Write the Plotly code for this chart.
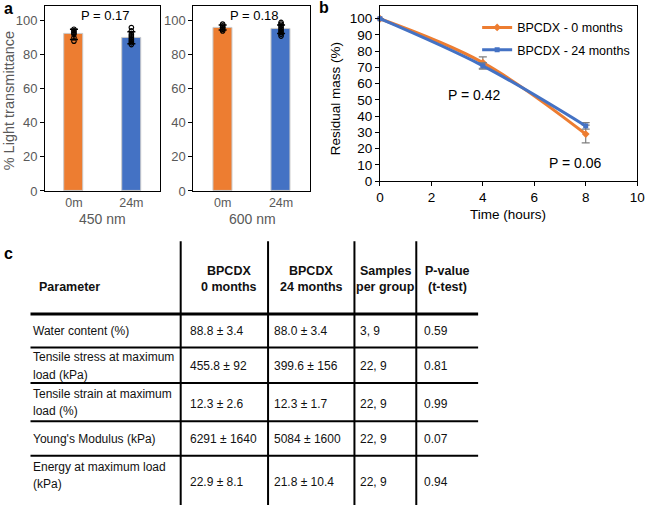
import plotly.graph_objects as go

# colours (Excel defaults)
ORANGE = '#ED7D31'
BLUE = '#4472C4'
GREY = '#595959'

# ---- panel a data ----
groups = ['0m', '24m']
t450_mean = [92, 90]
t450_sd = [3, 3.5]
t600_mean = [96, 95]
t600_sd = [1.5, 2.5]
t450_pts_0m = [88, 90, 92, 93, 94, 95]
t450_pts_24m = [86, 87, 88, 89, 90, 91, 92, 94, 96]
t600_pts_0m = [94, 95, 96, 96, 97, 98]
t600_pts_24m = [91, 92, 93, 94, 95, 96, 97, 98, 99]
p_450 = 'P = 0.17'
p_600 = 'P = 0.18'

# ---- panel b data ----
hours = [0, 4, 8]
mass_0m = [100, 73, 29]
mass_0m_err = [0, 3.5, 5.5]
mass_24m = [100, 71, 34]
mass_24m_err = [0, 2, 2]

# ---- panel c data ----
header = ['Parameter', 'BPCDX\n0 months', 'BPCDX\n24 months', 'Samples\nper group', 'P-value\n(t-test)']
params = ['Water content (%)', 'Tensile stress at maximum\nload (kPa)', 'Tensile strain at maximum\nload (%)',
          "Young's Modulus (kPa)", 'Energy at maximum load\n(kPa)']
val_0m = ['88.8 ± 3.4', '455.8 ± 92', '12.3 ± 2.6', '6291 ± 1640', '22.9 ± 8.1']
val_24m = ['88.0 ± 3.4', '399.6 ± 156', '12.3 ± 1.7', '5084 ± 1600', '21.8 ± 10.4']
samples = ['3, 9', '22, 9', '22, 9', '22, 9', '22, 9']
pvals = ['0.59', '0.81', '0.99', '0.07', '0.94']

W, H = 653, 513
FONT = 'Liberation Sans, Arial, sans-serif'


def px(x):
    return x / W


def py(y):
    return 1 - y / H


def note(text, x, y, size, color='black', xanchor='center', angle=0, bold=False):
    if bold:
        text = '<b>%s</b>' % text
    return dict(text=text, x=px(x), y=py(y), xref='paper', yref='paper', showarrow=False,
                xanchor=xanchor, yanchor='middle', textangle=angle,
                font=dict(size=size, color=color, family=FONT))


fig = go.Figure()

# bars + dots for the two wavelengths
for ax, means, sds, p0, p24 in [('', t450_mean, t450_sd, t450_pts_0m, t450_pts_24m),
                                ('2', t600_mean, t600_sd, t600_pts_0m, t600_pts_24m)]:
    fig.add_trace(go.Bar(x=groups, y=means, width=0.33,
                         marker=dict(color=[ORANGE, BLUE], line=dict(color='#c9c9c9', width=1)),
                         error_y=dict(type='data', array=sds, color='black', thickness=1.5, width=4),
                         xaxis='x' + ax, yaxis='y' + ax, showlegend=False))
    fig.add_trace(go.Scatter(x=[groups[0]] * len(p0) + [groups[1]] * len(p24), y=p0 + p24,
                             mode='markers', cliponaxis=False,
                             marker=dict(symbol='circle-open', color='black', size=4.5, line=dict(width=1.2)),
                             xaxis='x' + ax, yaxis='y' + ax, showlegend=False))

# degradation curves
fig.add_trace(go.Scatter(x=hours, y=mass_0m, name='BPCDX - 0 months', mode='lines+markers',
                         line=dict(color=ORANGE, width=3, shape='spline'),
                         marker=dict(symbol='diamond', size=6), cliponaxis=False,
                         error_y=dict(type='data', array=mass_0m_err, color='#7f7f7f', thickness=1.2, width=4),
                         xaxis='x3', yaxis='y3', legendgroup='a'))
fig.add_trace(go.Scatter(x=hours, y=mass_24m, name='BPCDX - 24 months', mode='lines+markers',
                         line=dict(color=BLUE, width=3, shape='spline'),
                         marker=dict(symbol='square', size=5), cliponaxis=False,
                         error_y=dict(type='data', array=mass_24m_err, color='#7f7f7f', thickness=1.2, width=4),
                         xaxis='x3', yaxis='y3', legendgroup='b'))

ya_dom = [py(194), py(6)]
common_y_a = dict(range=[0, 108.7], tickvals=[0, 20, 40, 60, 80, 100], showgrid=False, zeroline=False,
                  showline=True, linecolor='black', linewidth=1.2, mirror=True, ticks='outside',
                  ticklen=4, tickcolor='black', tickfont=dict(size=13, color=GREY), domain=ya_dom)
common_x_a = dict(showgrid=False, showline=True, linecolor='black', linewidth=1.2, mirror=True,
                  ticks='', tickfont=dict(size=12.5, color=GREY), range=[-0.5, 1.5])

shapes = []
annotations = [
    note('a', 5, 9, 16, bold=True),
    note('b', 326, 8, 16, bold=True),
    note('c', 5, 258, 16, bold=True),
    # panel a texts
    note('% Light transmittance', 6, 102, 14.5, GREY, angle=-90),
    note(p_450, 103, 16, 13),
    note(p_600, 255, 16, 13),
    note('450 nm', 100, 222, 14, GREY),
    note('600 nm', 253, 222, 14, GREY),
    # panel b texts
    note('Residual mass (%)', 338, 100, 13.5, angle=-90),
    note('Time (hours)', 513, 218, 13.5),
    note('P = 0.42', 479, 96, 14),
    note('P = 0.06', 582, 166, 14),
]

# ---- table (panel c) ----
vlines = [180, 269, 357, 420]
hlines = [(319, 3), (353, 2), (389, 2), (428, 2), (463, 2)]
for x in vlines:
    shapes.append(dict(type='line', xref='paper', yref='paper', x0=px(x), x1=px(x), y0=py(245), y1=py(513),
                       line=dict(color='black', width=2)))
for y, w in hlines:
    shapes.append(dict(type='line', xref='paper', yref='paper', x0=px(27), x1=px(483), y0=py(y), y1=py(y),
                       line=dict(color='black', width=w)))

TXT = '#111111'
col_cx = [None, 229, 313, 389, 452]
for i, h in enumerate(header):
    if i == 0:
        annotations.append(note(h, 34, 292, 12.5, TXT, xanchor='left', bold=True))
        continue
    for j, ln in enumerate(h.split('\n')):
        annotations.append(note(ln, col_cx[i], 275 + 17 * j, 12.5, TXT, bold=True))

row_cy = [336, 372, 409, 446, 483]
val_cy = [336, 372, 410, 446, 490]
col_x = [187, 273, 361, 426]
for r in range(len(params)):
    lines = params[r].split('\n')
    for j, ln in enumerate(lines):
        y = row_cy[r] + (j - (len(lines) - 1) / 2) * 18
        annotations.append(note(ln, 27, y, 12, TXT, xanchor='left'))
    for cx, v in zip(col_x, [val_0m[r], val_24m[r], samples[r], pvals[r]]):
        annotations.append(note(v, cx, val_cy[r], 12, TXT, xanchor='left'))

fig.update_layout(
    width=W, height=H, autosize=False,
    margin=dict(l=0, r=0, t=0, b=0),
    paper_bgcolor='white', plot_bgcolor='white',
    font=dict(family=FONT, color='black'),
    bargap=0,
    xaxis=dict(domain=[px(42), px(159)], anchor='y', **common_x_a),
    yaxis=dict(anchor='x', **common_y_a),
    xaxis2=dict(domain=[px(193), px(312)], anchor='y2', **common_x_a),
    yaxis2=dict(anchor='x2', **common_y_a),
    xaxis3=dict(domain=[px(383), px(645)], anchor='y3', range=[0, 10], tickvals=[0, 2, 4, 6, 8, 10],
                showgrid=False, zeroline=False, showline=True, linecolor='black', linewidth=1.2, mirror=True,
                ticks='outside', ticklen=4, tickcolor='black', tickfont=dict(size=13.5, color='black')),
    yaxis3=dict(domain=[py(184), py(6)], anchor='x3', range=[0, 107.9], tickvals=list(range(0, 101, 10)),
                showgrid=False, zeroline=False, showline=True, linecolor='black', linewidth=1.2, mirror=True,
                ticks='outside', ticklen=4, tickcolor='black', tickfont=dict(size=13.5, color='black')),
    legend=dict(x=px(482), y=py(13), xanchor='left', yanchor='top', bgcolor='rgba(0,0,0,0)',
                font=dict(size=12.5, color='black'), tracegroupgap=3, traceorder='grouped',
                itemwidth=30),
    annotations=annotations,
    shapes=shapes,
)

# page body has a default 8px margin; drop it so the figure sits at the window corner
fig.write_html('out.html', config={'displayModeBar': False},
               post_script="document.body.style.margin='0px';")
